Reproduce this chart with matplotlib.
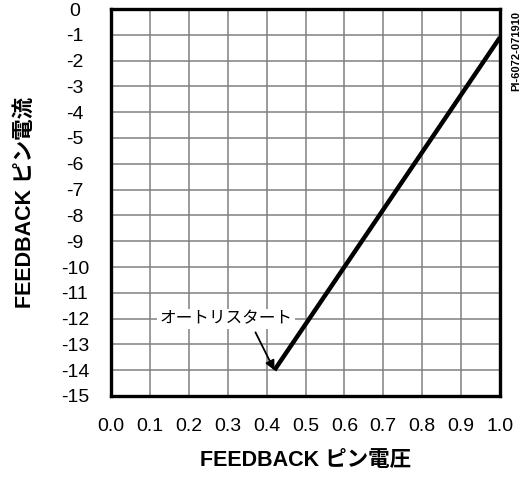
import matplotlib
matplotlib.use("Agg")
import matplotlib.pyplot as plt

plt.rcParams['font.family'] = ['Liberation Sans', 'Noto Sans CJK JP']

# data
line_x = [0.42, 1.0]
line_y = [-14.0, -1.1]
x_ticks = [0.0, 0.1, 0.2, 0.3, 0.4, 0.5, 0.6, 0.7, 0.8, 0.9, 1.0]
y_ticks = list(range(0, -16, -1))
xlabel = "FEEDBACK ピン電圧"
ylabel = "FEEDBACK ピン電流"
annot_text = "オートリスタート"
annot_xy = (0.42, -14.0)
annot_text_xy = (0.295, -12.0)
code_text = "PI-6072-071910"

fig = plt.figure(figsize=(5.24, 4.79), dpi=100)
ax = fig.add_axes([111/524, 1-396/479, (500-111)/524, (396-9)/479])

ax.plot(line_x, line_y, color='black', lw=3.2, solid_capstyle='butt', zorder=3)
ax.set_xlim(0, 1.0)
ax.set_ylim(-15, 0)
ax.set_xticks(x_ticks)
ax.set_xticklabels([f"{v:.1f}" for v in x_ticks])
ax.set_yticks(y_ticks)
ax.set_yticklabels([str(v) for v in y_ticks])
ax.grid(True, color='#808080', lw=1.1)
ax.set_axisbelow(True)
for s in ax.spines.values():
    s.set_linewidth(2.4)
    s.set_color('black')
ax.tick_params(length=0, labelsize=14)
ax.tick_params(axis='x', pad=16)
ax.tick_params(axis='y', pad=26)
for lab in ax.get_yticklabels():
    lab.set_horizontalalignment('center')

ax.set_xlabel(xlabel, fontsize=15.5, fontweight='bold', va='center')
ax.set_ylabel(ylabel, fontsize=15.5, fontweight='bold', va='center')
ax.xaxis.set_label_coords(0.5, (396-461)/387)
ax.yaxis.set_label_coords((25-111)/389, 0.5)

ax.annotate(annot_text, xy=annot_xy, xytext=annot_text_xy,
            fontsize=12, ha='center', va='center',
            bbox=dict(boxstyle='square,pad=0.15', fc='white', ec='none'),
            arrowprops=dict(arrowstyle='-|>', color='black', lw=1.3,
                            mutation_scale=14, shrinkA=3, shrinkB=0,
                            relpos=(0.7, 0.0)),
            zorder=4)

fig.text(516/524, 1-51/479, code_text, rotation=90, fontsize=8,
         fontweight='bold', ha='center', va='center')

fig.savefig('out.png', dpi=100)
